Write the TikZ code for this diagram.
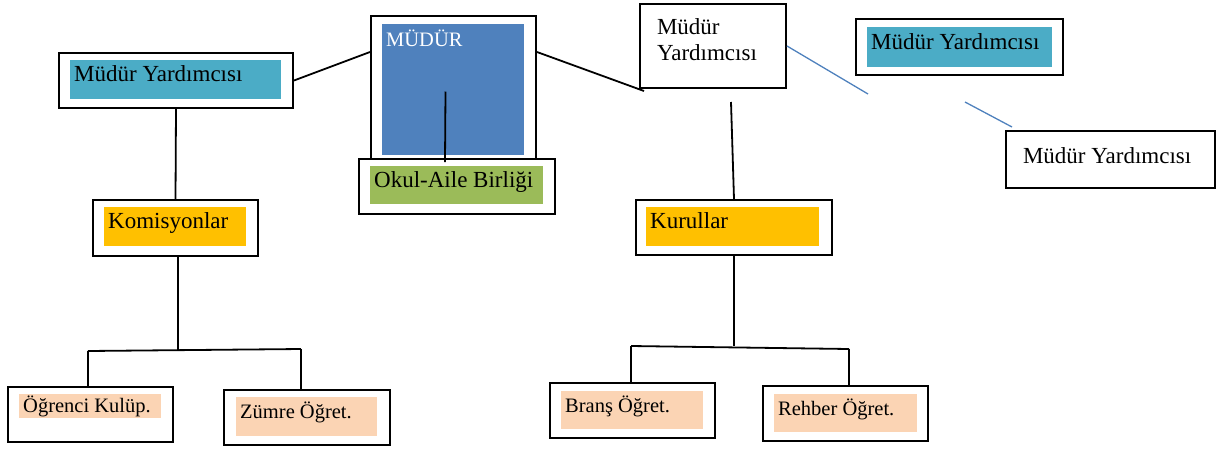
\documentclass[tikz,border=0pt]{standalone}
\usepackage{fontspec}
\setmainfont{Liberation Serif}
\usetikzlibrary{calc,positioning}

\definecolor{aqua}{HTML}{4BACC6}
\definecolor{mblue}{HTML}{4F81BD}
\definecolor{okulgreen}{HTML}{9BBB59}
\definecolor{gold}{HTML}{FFC000}
\definecolor{peach}{HTML}{FBD4B4}

\begin{document}
\begin{tikzpicture}[x=1pt,y=-1pt,
	box/.style={draw,line width=2pt,anchor=north west,inner sep=0pt,fill=white},
	band/.style={anchor=north west,inner xsep=4pt,inner ysep=0pt,align=flush left,text height=16pt,text depth=12pt,font=\fontsize{23}{26}\selectfont},
	small/.style={font=\fontsize{20.5}{24}\selectfont},
	link/.style={line width=1.8pt}]
		\useasboundingbox (0,0) rectangle (1216,448);

		% upper row
		\node[box,minimum width=234pt,minimum height=55pt] (myL) at (58,52) {};
		\node[band,fill=aqua,text width=203pt,minimum height=39pt] (myLf) at (70,60) {Müdür Yardımcısı};

		\node[box,minimum width=165pt,minimum height=145pt] (mudur) at (370,15) {};
		\node[band,fill=mblue,text=white,text width=134pt,minimum height=131pt,text height=22pt,text depth=109pt,font=\fontsize{20.5}{24}\selectfont] (mudurf) at (382,24) {MÜDÜR};

		\node[box,minimum width=196pt,minimum height=55pt] (okul) at (358,158) {};
		\node[band,fill=okulgreen,text width=165pt,minimum height=38pt] (okulf) at (370,166) {Okul-Aile Birliği};

		\node[box,minimum width=146pt,minimum height=84pt,text width=112pt,inner xsep=17pt,align=flush left,text height=17pt,text depth=40pt,font=\fontsize{23}{26}\selectfont] (myM) at (639,3) {Müdür\\Yardımcısı};

		\node[box,minimum width=207pt,minimum height=56pt] (myT) at (855,18) {};
		\node[band,fill=aqua,text width=177pt,minimum height=40pt] (myTf) at (867,27) {Müdür Yardımcısı};

		\node[box,minimum width=209pt,minimum height=57pt,text width=175pt,inner xsep=17pt,align=flush left,text height=17pt,text depth=9pt,font=\fontsize{23}{26}\selectfont] (myR) at (1005,130) {Müdür Yardımcısı};

		% middle row
		\node[box,minimum width=165pt,minimum height=56pt] (komisyon) at (92,199) {};
		\node[band,fill=gold,text width=134pt,minimum height=39pt] (komisyonf) at (104,207) {Komisyonlar};

		\node[box,minimum width=196pt,minimum height=55pt] (kurul) at (635,199) {};
		\node[band,fill=gold,text width=165pt,minimum height=39pt] (kurulf) at (646,207) {Kurullar};

		% lower row
		\node[box,minimum width=165pt,minimum height=55pt] (ogrenci) at (7,386) {};
		\node[band,small,fill=peach,text width=134pt,minimum height=24pt,text height=18pt,text depth=6pt] (ogrencif) at (19,394) {Öğrenci Kulüp.};

		\node[box,minimum width=166pt,minimum height=55pt] (zumre) at (223,389) {};
		\node[band,small,fill=peach,text width=133pt,minimum height=39pt] (zumref) at (236,397) {Zümre Öğret.};

		\node[box,minimum width=165pt,minimum height=55pt] (brans) at (549,382) {};
		\node[band,small,fill=peach,text width=134pt,minimum height=38pt] (bransf) at (561,391) {Branş Öğret.};

		\node[box,minimum width=165pt,minimum height=55pt] (rehber) at (762,385) {};
		\node[band,small,fill=peach,text width=135pt,minimum height=38pt] (rehberf) at (774,394) {Rehber Öğret.};

		% connectors
		\draw[link] (myL.east) -- ($(mudur.north west)+(0,37)$);
		\draw[link] ($(mudur.north east)+(0,37)$) -- ($(myM.south west)+(5,2)$);
		\draw[link] ($(mudur.center)+(-8,3)$) -- ($(okul.north)+(-12,4)$);
		\draw[link] (myL.south) -- (komisyon.north);
		\draw[link] ($(myM.south)+(18,13)$) -- (kurul.north);

		\coordinate (b1) at (868,94);
		\coordinate (b2) at (965,102);
		\draw[mblue,line width=1.3pt] (myM.east) -- (b1)
				(b2) -- ($(myR.north west)+(7,-3)$);

		\coordinate (kL) at (88,351);
		\coordinate (kR) at (301,349);
		\draw[link] ($(komisyon.south)+(2.5,0)$) -- ($(komisyon.south |- kL)+(2.5,0)$);
		\draw[link] (kL) -- (kR);
		\draw[link] (kL) -- (kL |- ogrenci.north);
		\draw[link] (kR) -- (kR |- zumre.north);

		\coordinate (uL) at (631,346);
		\coordinate (uR) at (849,349);
		\draw[link] (kurul.south) -- (kurul.south |- uL);
		\draw[link] (uL) -- (uR);
		\draw[link] (uL) -- (uL |- brans.north);
		\draw[link] (uR) -- (uR |- rehber.north);
\end{tikzpicture}
\end{document}
